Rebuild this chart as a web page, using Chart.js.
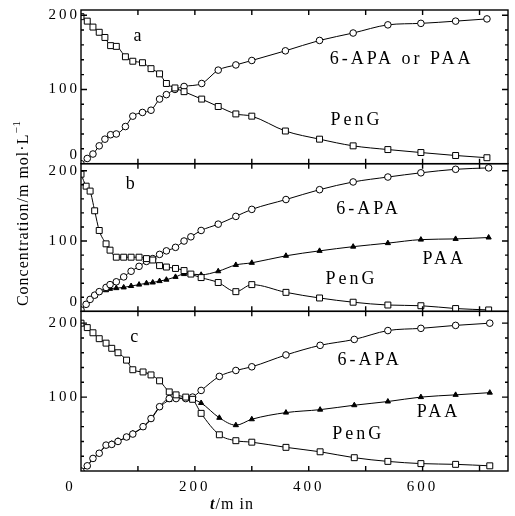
<!DOCTYPE html>
<html>
<head>
<meta charset="utf-8">
<script src="https://cdn.jsdelivr.net/npm/chart.js@4.4.0/dist/chart.umd.min.js"></script>
<style>
  html, body { margin: 0; padding: 0; background: #fff; }
  #wrap { width: 515px; height: 516px; }
</style>
</head>
<body>
<div id="wrap"><canvas id="myChart"></canvas></div>
<script>
// sampling times (min) for each panel
var timeA = [0, 11, 21, 32, 42, 52, 62, 78, 91, 108, 123, 138, 150, 165, 181, 212, 241, 272, 300, 359, 419, 478, 539, 597, 658, 713];
var timeB = [0, 9, 16, 24, 32, 44, 51, 62, 75, 88, 102, 115, 126, 138, 150, 166, 181, 193, 211, 241, 272, 300, 360, 419, 478, 539, 597, 658, 716];
var timeC = [0, 11, 21, 32, 44, 54, 65, 80, 91, 109, 123, 138, 155, 167, 184, 196, 211, 243, 272, 300, 360, 420, 480, 539, 597, 658, 718];

// concentrations, mmol/L
var pengA = [198, 192, 184, 177, 170, 159, 158, 144, 138, 136, 128, 121, 108, 102, 97, 87, 77, 67, 64, 44, 33, 24, 19, 15, 11, 8];
var apaA  = [0, 7, 13, 24, 33, 39, 40, 50, 64, 69, 72, 87, 93, 100, 104, 108, 126, 133, 139, 152, 166, 176, 187, 189, 192, 195];

var pengB = [195, 178, 171, 143, 115, 96, 87, 77, 77, 77, 77, 75, 73, 65, 63, 61, 58, 53, 48, 41, 28, 38, 27, 19, 13, 9, 8, 4, 2];
var apaB  = [2, 10, 17, 23, 28, 34, 38, 42, 49, 57, 64, 71, 75, 81, 86, 91, 100, 106, 115, 124, 135, 145, 159, 173, 184, 191, 197, 202, 204];
var paaB  = [2, 10, 17, 22, 27, 30, 32, 33, 34, 36, 38, 40, 41, 43, 45, 49, 53, 53, 52, 57, 66, 69, 79, 86, 92, 97, 102, 103, 105];

var pengC = [200, 194, 187, 179, 173, 166, 160, 150, 137, 134, 130, 122, 107, 103, 100, 97, 78, 49, 41, 39, 32, 26, 18, 13, 10, 9, 7];
var apaC  = [0, 7, 17, 24, 35, 36, 40, 46, 50, 60, 71, 87, 98, 98, 98, 100, 109, 128, 136, 141, 157, 170, 178, 190, 193, 197, 200];
var paaC  = [0, 7, 16, 24, 34, 37, 41, 45, 51, 59, 70, 86, 96, 99, 98, 97, 92, 72, 62, 70, 79, 83, 89, 94, 100, 103, 106];

var xTicks = [0, 200, 400, 600];
var yTicks = [0, 100, 200];

function pts(t, v) {
  return t.map(function (x, i) { return { x: x, y: v[i] }; });
}

function series(t, v, axis, style) {
  var filled = style === 'triangle';
  return {
    data: pts(t, v),
    yAxisID: axis,
    borderColor: '#000',
    borderWidth: 1,
    backgroundColor: filled ? '#000' : '#fff',
    pointStyle: style,
    pointRadius: style === 'rect' ? 4.2 : (filled ? 3 : 3.3),
    pointBorderWidth: 1,
    cubicInterpolationMode: 'monotone',
    fill: false
  };
}

var serif = 'Liberation Serif, Times New Roman, serif';

var notes = [
  { axis: 'yA', t: 102, v: 172, text: 'a' },
  { axis: 'yA', t: 563, v: 141, text: '6-APA or PAA' },
  { axis: 'yA', t: 484, v: 59, text: 'PenG' },
  { axis: 'yB', t: 89, v: 180, text: 'b' },
  { axis: 'yB', t: 505, v: 145, text: '6-APA' },
  { axis: 'yB', t: 638, v: 74, text: 'PAA' },
  { axis: 'yB', t: 475, v: 45, text: 'PenG' },
  { axis: 'yC', t: 96, v: 181, text: 'c' },
  { axis: 'yC', t: 507, v: 150, text: '6-APA' },
  { axis: 'yC', t: 628, v: 80, text: 'PAA' },
  { axis: 'yC', t: 487, v: 50, text: 'PenG' }
];

var framePlugin = {
  id: 'frame',
  beforeDraw: function (chart) {
    chart.ctx.letterSpacing = '3px';
  },
  afterDraw: function (chart) {
    var ctx = chart.ctx, x = chart.scales.x;
    var L = x.left, R = x.right;
    ctx.save();
    ctx.strokeStyle = '#000';
    ctx.lineWidth = 1.4;
    ['yA', 'yB', 'yC'].forEach(function (id) {
      var s = chart.scales[id];
      ctx.strokeRect(L, s.top, R - L, s.bottom - s.top);
      ctx.beginPath();
      for (var v = 20; v < s.max; v += 20) {
        var p = s.getPixelForValue(v), len = v % 100 === 0 ? 6 : 3;
        ctx.moveTo(L, p); ctx.lineTo(L + len, p);
        ctx.moveTo(R, p); ctx.lineTo(R - len, p);
      }
      for (var t = 100; t < x.max; t += 100) {
        var q = x.getPixelForValue(t);
        ctx.moveTo(q, s.top); ctx.lineTo(q, s.top + 5);
        ctx.moveTo(q, s.bottom); ctx.lineTo(q, s.bottom - 5);
      }
      ctx.stroke();
    });

    // curve labels
    ctx.fillStyle = '#000';
    ctx.textAlign = 'center';
    ctx.textBaseline = 'middle';
    ctx.font = '18px ' + serif;
    ctx.letterSpacing = '3px';
    notes.forEach(function (n) {
      ctx.fillText(n.text, x.getPixelForValue(n.t), chart.scales[n.axis].getPixelForValue(n.v));
    });

    // y title, rotated, with superscript
    ctx.letterSpacing = '1px';
    ctx.textAlign = 'left';
    ctx.font = '16px ' + serif;
    var main = 'Concentration/m mol\u00b7L';
    var w1 = ctx.measureText(main).width;
    ctx.font = '11px ' + serif;
    var w2 = ctx.measureText('\u22121').width;
    ctx.translate(24, 213);
    ctx.rotate(-Math.PI / 2);
    ctx.font = '16px ' + serif;
    ctx.fillText(main, -(w1 + w2) / 2, 0);
    ctx.font = '11px ' + serif;
    ctx.fillText('\u22121', -(w1 + w2) / 2 + w1, -7);
    ctx.setTransform(1, 0, 0, 1, 0, 0);

    // x title
    ctx.letterSpacing = '1px';
    ctx.font = 'italic bold 16px ' + serif;
    var wt = ctx.measureText('t').width;
    ctx.font = '16px ' + serif;
    var wm = ctx.measureText('/m in').width;
    var x0 = 232 - (wt + wm) / 2;
    ctx.font = 'italic bold 16px ' + serif;
    ctx.fillText('t', x0, 505);
    ctx.font = '16px ' + serif;
    ctx.fillText('/m in', x0 + wt, 505);
    ctx.restore();
  }
};

function yScale(max, weight, showZero) {
  return {
    type: 'linear',
    position: 'left',
    stack: 'panels',
    stackWeight: weight,
    min: 0,
    max: max,
    border: { display: false },
    grid: { display: false, drawTicks: false },
    afterBuildTicks: function (s) {
      var list = [];
      for (var v = 0; v <= 200; v += 20) list.push({ value: v });
      s.ticks = list;
    },
    ticks: {
      autoSkip: false,
      padding: 1,
      color: '#000',
      font: { family: serif, size: 15 },
      callback: function (v) {
        if (v === 0) return showZero ? ['0', ''] : '';
        return yTicks.indexOf(v) >= 0 ? String(v) : '';
      }
    },
    afterFit: function (s) { s.width = 81; }
  };
}

new Chart('myChart', {
  type: 'line',
  data: {
    datasets: [
      series(timeA, pengA, 'yA', 'rect'),
      series(timeA, apaA, 'yA', 'circle'),
      series(timeB, pengB, 'yB', 'rect'),
      series(timeB, apaB, 'yB', 'circle'),
      series(timeB, paaB, 'yB', 'triangle'),
      series(timeC, pengC, 'yC', 'rect'),
      series(timeC, apaC, 'yC', 'circle'),
      series(timeC, paaC, 'yC', 'triangle')
    ]
  },
  options: {
    responsive: true,
    maintainAspectRatio: false,
    animation: false,
    layout: { padding: { top: 9, right: 6, left: 0, bottom: 0 } },
    plugins: { legend: { display: false }, tooltip: { enabled: false } },
    scales: {
      x: {
        type: 'linear',
        position: 'bottom',
        min: 0,
        max: 750,
        border: { display: false },
        grid: { display: false, drawTicks: false },
        ticks: {
          stepSize: 100,
          autoSkip: false,
          maxRotation: 0,
          padding: 7,
          color: '#000',
          font: { family: serif, size: 15 },
          callback: function (v) {
            if (v === 0) return '0\u2007\u2007';
            return xTicks.indexOf(v) >= 0 ? String(v) : '';
          }
        },
        afterFit: function (s) { s.height = 45; }
      },
      yC: yScale(216, 160, false),
      yB: yScale(210, 148, true),
      yA: yScale(207, 154, true)
    }
  },
  plugins: [framePlugin]
});
</script>
</body>
</html>
